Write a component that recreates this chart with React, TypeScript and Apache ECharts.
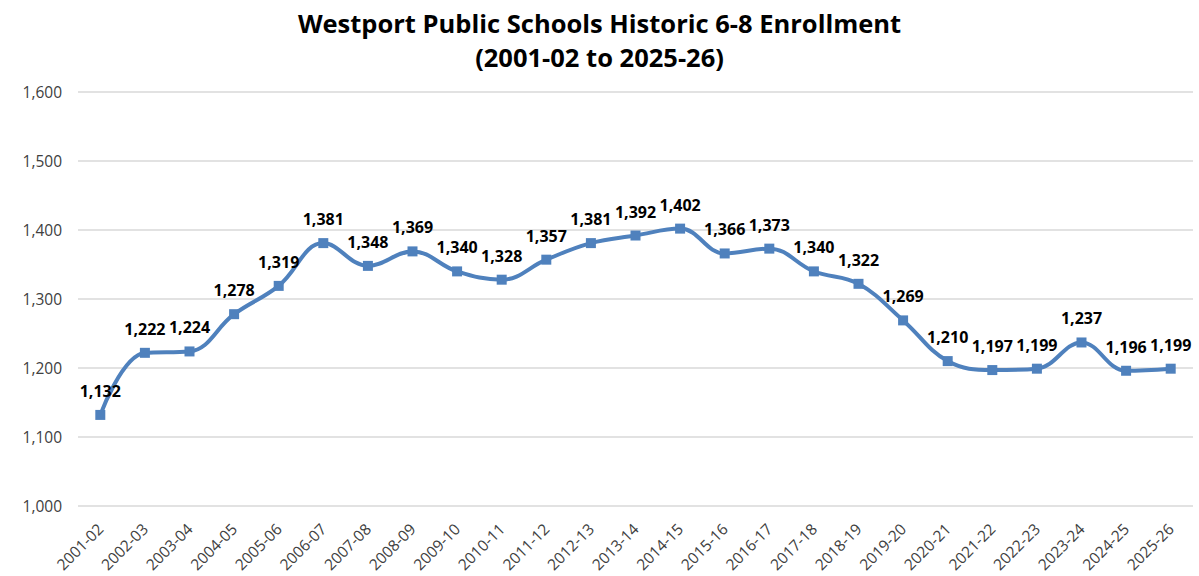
import React, { useEffect, useRef } from "react";
import * as echarts from "echarts";

const categories = ["2001-02","2002-03","2003-04","2004-05","2005-06","2006-07","2007-08","2008-09","2009-10","2010-11","2011-12","2012-13","2013-14","2014-15","2015-16","2016-17","2017-18","2018-19","2019-20","2020-21","2021-22","2022-23","2023-24","2024-25","2025-26"];
const enrollment = [1132,1222,1224,1278,1319,1381,1348,1369,1340,1328,1357,1381,1392,1402,1366,1373,1340,1322,1269,1210,1197,1199,1237,1196,1199];
const titleLines = ["Westport Public Schools Historic 6-8 Enrollment", "(2001-02 to 2025-26)"];

const fmt = (v: number) => v.toLocaleString("en-US");

export default function App() {
  const ref = useRef<HTMLDivElement>(null);
  useEffect(() => {
    const chart = echarts.init(ref.current!, null, { renderer: "svg" });
    chart.setOption({
      animation: false,
      backgroundColor: "#ffffff",
      title: {
        text: titleLines.join("\n"),
        left: "center",
        top: 1,
        textStyle: {
          fontFamily: "'Open Sans', sans-serif",
          fontWeight: "bold",
          fontSize: 25.5,
          lineHeight: 34,
          color: "#000000",
        },
      },
      grid: { left: 78, right: 6, top: 92, bottom: 70, containLabel: false },
      xAxis: {
        type: "category",
        data: categories,
        boundaryGap: true,
        axisLine: { show: false },
        axisTick: { show: false },
        axisLabel: {
          rotate: 45,
          interval: 0,
          margin: 20,
          color: "#404040",
          fontSize: 15.5,
          fontFamily: "'Open Sans', sans-serif",
        },
      },
      yAxis: {
        type: "value",
        min: 1000,
        max: 1600,
        interval: 100,
        axisLine: { show: false },
        axisTick: { show: false },
        axisLabel: {
          formatter: (v: number) => fmt(v),
          color: "#404040",
          fontSize: 15.5,
          margin: 16,
          fontFamily: "'Open Sans', sans-serif",
        },
        splitLine: { lineStyle: { color: "#d9d9d9", width: 1.5 } },
      },
      series: [
        {
          type: "line",
          data: enrollment,
          smooth: 0.4,
          symbol: "rect",
          symbolSize: 10,
          lineStyle: { color: "#4F81BD", width: 4 },
          itemStyle: { color: "#4F81BD" },
          label: {
            show: true,
            position: "top",
            distance: 11,
            formatter: (p: any) => fmt(p.value),
            color: "#000000",
            fontWeight: "bold",
            fontSize: 16,
            fontFamily: "'Open Sans', sans-serif",
          },
        },
      ],
    });
    return () => chart.dispose();
  }, []);
  return (
    <div
      ref={ref}
      style={{ position: "absolute", left: 0, top: 0, width: 1199, height: 576 }}
    />
  );
}
